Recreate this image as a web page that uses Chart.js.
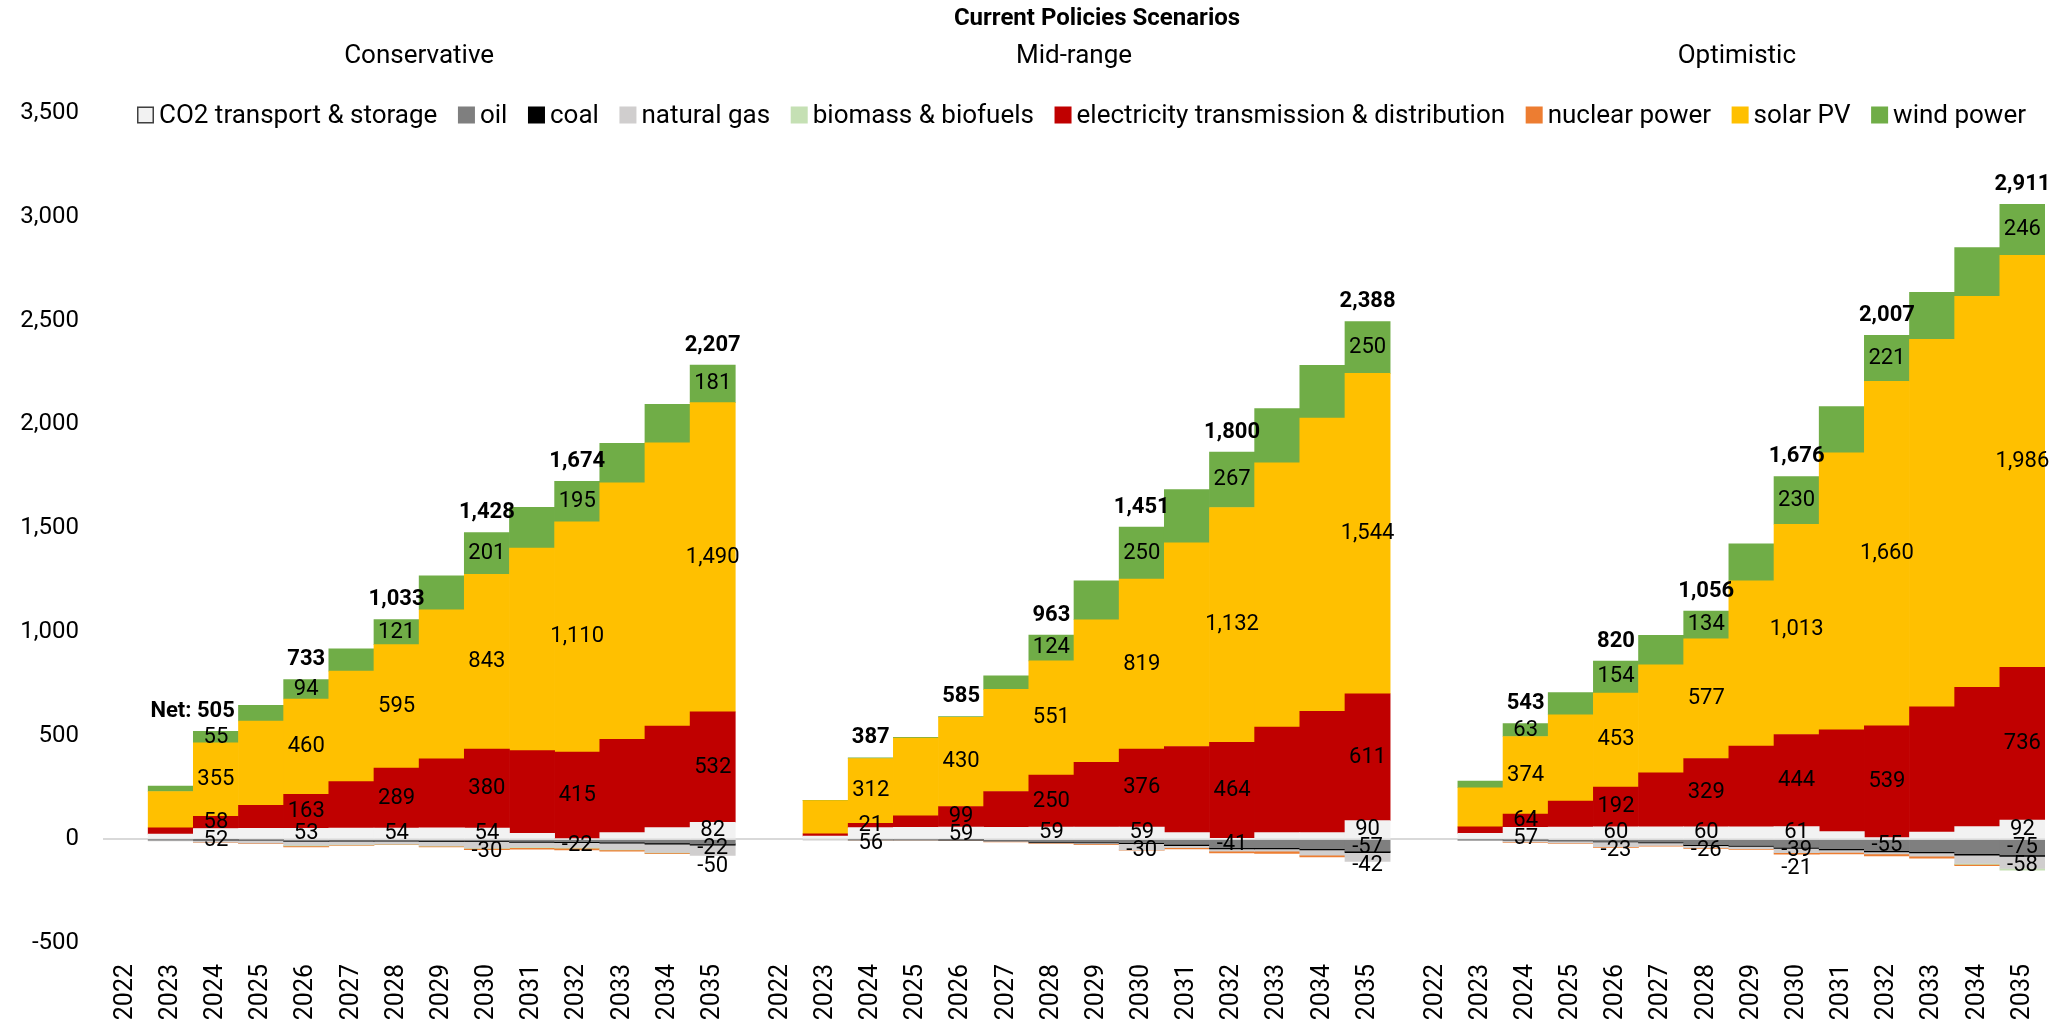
<!DOCTYPE html>
<html>
<head>
<meta charset="utf-8">
<script src="https://cdn.jsdelivr.net/npm/chart.js@4.4.1/dist/chart.umd.min.js"></script>
<style>
  html, body { margin: 0; padding: 0; background: #ffffff; }
  #wrap { width: 2053px; height: 1024px; }
</style>
</head>
<body>
<div id="wrap"><canvas id="myChart" width="2053" height="1024"></canvas></div>
<script>
const years = ['2022', '2023', '2024', '2025', '2026', '2027', '2028', '2029', '2030', '2031', '2032', '2033', '2034', '2035'];
const scenarios = ['Conservative', 'Mid-range', 'Optimistic'];
const mainTitle = 'Current Policies Scenarios';
const series = ['CO2 transport & storage', 'oil', 'coal', 'natural gas', 'biomass & biofuels',
  'electricity transmission & distribution', 'nuclear power', 'solar PV', 'wind power'];
const colors = ['#F2F2F2', '#7F7F7F', '#000000', '#D0CECE', '#C5E0B4', '#C00000', '#ED7D31', '#FFC000', '#70AD47'];

// y axis
const yMin = -500, yMax = 3500, yStep = 500;

// years that carry value labels, and the bold net labels on them
const labelYears = ['2024', '2026', '2028', '2030', '2032', '2035'];

// Conservative
const consCO2   = [0, 25, 52, 53, 53, 54, 54, 55, 54, 29, 5, 32, 56, 82];
const consOil   = [0, -2, -3, -4, -8, -6, -6, -8, -8, -10, -12, -14, -18, -22];
const consCoal  = [0, 0, -1, -1, -3, -3, -3, -4, -4, -5, -5, -5, -6, -6];
const consGas   = [0, -6, -10, -14, -18, -16, -14, -19, -30, -22, -22, -30, -40, -50];
const consBio   = [0, 0, 0, 0, -3, -2, -1, -2, -2, -3, -4, -3, -2, 0];
const consElec  = [0, 30, 58, 110, 163, 224, 289, 332, 380, 398, 415, 450, 490, 532];
const consNuc   = [0, 0, -1, -2, -5, -3, -2, -4, -6, -8, -8, -6, -3, 0];
const consSolar = [0, 175, 355, 407, 460, 532, 595, 719, 843, 976, 1110, 1236, 1365, 1490];
const consWind  = [0, 26, 55, 76, 94, 108, 121, 163, 201, 197, 195, 190, 185, 181];
const consNet   = ['Net: 505', '733', '1,033', '1,428', '1,674', '2,207'];

// Mid-range
const midCO2   = [0, 15, 56, 57, 59, 57, 59, 59, 59, 32, 3, 32, 32, 90];
const midOil   = [0, 0, -2, -2, -3, -6, -12, -14, -16, -25, -41, -40, -45, -57];
const midCoal  = [0, 0, 0, 0, -1, -2, -3, -4, -5, -6, -6, -6, -7, -8];
const midGas   = [0, -2, -2, -2, -1, -3, -4, -5, -30, -10, -10, -12, -25, -42];
const midBio   = [0, 0, 0, 0, 0, 0, 0, 0, 0, 0, 0, 0, 0, 0];
const midElec  = [0, 11, 21, 56, 99, 173, 250, 312, 376, 415, 464, 509, 585, 611];
const midNuc   = [0, 0, -1, -1, -1, -2, -2, -3, -2, -6, -9, -10, -8, 0];
const midSolar = [0, 160, 312, 375, 430, 492, 551, 687, 819, 982, 1132, 1273, 1413, 1544];
const midWind  = [0, 2, 3, 3, 3, 65, 124, 188, 250, 256, 267, 262, 254, 250];
const midNet   = ['387', '585', '963', '1,451', '1,800', '2,388'];

// Optimistic
const optCO2   = [0, 28, 57, 59, 60, 60, 60, 60, 61, 37, 8, 34, 61, 92];
const optOil   = [0, -2, -4, -6, -10, -14, -26, -30, -39, -45, -55, -60, -70, -75];
const optCoal  = [0, 0, -1, -2, -3, -4, -5, -5, -5, -6, -6, -6, -7, -8];
const optGas   = [0, -4, -8, -10, -23, -12, -10, -10, -21, -12, -10, -15, -40, -58];
const optBio   = [0, 0, 0, 0, 0, 0, 0, 0, 0, 0, 0, 0, -4, -8];
const optElec  = [0, 32, 64, 125, 192, 260, 329, 389, 444, 490, 539, 604, 671, 736];
const optNuc   = [0, 0, -2, -2, -3, -3, -3, -4, -7, -8, -9, -10, -6, 0];
const optSolar = [0, 188, 374, 416, 453, 521, 577, 796, 1013, 1335, 1660, 1771, 1884, 1986];
const optWind  = [0, 32, 63, 107, 154, 142, 134, 179, 230, 223, 221, 227, 235, 246];
const optNet   = ['543', '820', '1,056', '1,676', '2,007', '2,911'];

const scenarioSeries = [
  [consCO2, consOil, consCoal, consGas, consBio, consElec, consNuc, consSolar, consWind],
  [midCO2, midOil, midCoal, midGas, midBio, midElec, midNuc, midSolar, midWind],
  [optCO2, optOil, optCoal, optGas, optBio, optElec, optNuc, optSolar, optWind]
];
const scenarioNet = [consNet, midNet, optNet];

// the three panels sit side by side on one x axis, half a bar apart
const groupStart = [0, 14.5, 29];
const xPositions = [];
const xLabels = [];
groupStart.forEach(g => years.forEach((y, i) => { xPositions.push(g + i); xLabels.push(y); }));

const FONT = 'Roboto, "DejaVu Sans", sans-serif';
Chart.defaults.font.family = FONT;
Chart.defaults.color = '#000';

const datasets = series.map((name, s) => ({
  label: name,
  backgroundColor: colors[s],
  borderWidth: 0,
  barPercentage: 1,
  categoryPercentage: 1,
  data: scenarioSeries.flatMap((arr, g) => arr[s].map((v, i) => ({ x: groupStart[g] + i, y: v === 0 ? null : v })))
}));

const headerPlugin = {
  id: 'header',
  afterDraw(chart) {
    const ctx = chart.ctx;
    const xs = chart.scales.x;
    ctx.save();
    ctx.fillStyle = '#000';
    ctx.textAlign = 'center';
    ctx.textBaseline = 'middle';
    ctx.font = 'bold 24px ' + FONT;
    ctx.fillText(mainTitle, 1097, 19);
    ctx.font = '26px ' + FONT;
    scenarios.forEach((name, g) => {
      const a = xs.getPixelForValue(groupStart[g] - 0.5);
      const b = xs.getPixelForValue(groupStart[g] + years.length - 0.5);
      ctx.fillText(name, (a + b) / 2 + (g === 2 ? 8 : 0), 56);
    });

    // legend laid over the top of the plot area
    ctx.font = '26px ' + FONT;
    ctx.textAlign = 'left';
    const box = 17, gapBT = 5, x0 = 137, x1 = 2026, ly = 115;
    const widths = series.map(t => ctx.measureText(t).width);
    const itemW = widths.map(w => box + gapBT + w);
    const total = itemW.reduce((a, b) => a + b, 0);
    const gap = (x1 - x0 - total) / (series.length - 1);
    let x = x0;
    series.forEach((t, s) => {
      ctx.fillStyle = colors[s];
      ctx.fillRect(x, ly - box / 2, box, box);
      if (s === 0) {
        ctx.strokeStyle = '#404040';
        ctx.lineWidth = 1.5;
        ctx.strokeRect(x + 0.75, ly - box / 2 + 0.75, box - 1.5, box - 1.5);
      }
      ctx.fillStyle = '#000';
      ctx.fillText(t, x + box + gapBT, ly + 1);
      x += itemW[s] + gap;
    });
    ctx.restore();
  }
};

const labelPlugin = {
  id: 'segLabels',
  afterDatasetsDraw(chart) {
    const ctx = chart.ctx;
    const LH = 18;
    ctx.save();
    ctx.fillStyle = '#000';
    ctx.textBaseline = 'middle';
    ctx.textAlign = 'center';
    scenarios.forEach((name, g) => {
      labelYears.forEach((yr, k) => {
        const idx = g * years.length + years.indexOf(yr);
        const items = [];
        let top = Infinity, xc = null;
        chart.data.datasets.forEach((ds, s) => {
          const v = ds.data[idx].y;
          if (v == null) return;
          const el = chart.getDatasetMeta(s).data[idx];
          xc = el.x;
          if (v > 0) top = Math.min(top, el.y);
          if (Math.abs(v) >= 20) items.push({ y: (el.y + el.base) / 2, text: v.toLocaleString('en-US') });
        });
        items.sort((a, b) => a.y - b.y);
        ctx.font = '22px ' + FONT;
        let prev = -Infinity;
        items.forEach(it => {
          const y = Math.max(it.y, prev + LH);
          prev = y;
          ctx.fillText(it.text, xc, y);
        });
        const net = scenarioNet[g][k];
        ctx.font = 'bold 22px ' + FONT;
        if (net.startsWith('Net: ')) {
          const numW = ctx.measureText(net.slice(5)).width;
          ctx.textAlign = 'right';
          ctx.fillText(net, xc + numW / 2, top - 20);
          ctx.textAlign = 'center';
        } else {
          ctx.fillText(net, xc, top - 20);
        }
      });
    });
    ctx.restore();
  }
};

const ctx = document.getElementById('myChart').getContext('2d');
const myChart = new Chart(ctx, {
  type: 'bar',
  data: { datasets: datasets },
  options: {
    responsive: false,
    animation: false,
    devicePixelRatio: 1,
    layout: { padding: { top: 113, right: 8, left: 0, bottom: 0 } },
    plugins: {
      legend: { display: false },
      title: { display: false },
      tooltip: { enabled: false }
    },
    scales: {
      x: {
        type: 'linear',
        stacked: true,
        min: -0.5,
        max: 42.5,
        offset: false,
        grid: { display: false, drawTicks: false },
        border: { display: false },
        afterBuildTicks: s => { s.ticks = xPositions.map(v => ({ value: v })); },
        afterFit: s => { s.height = 81; s.paddingLeft = 0; s.paddingRight = 0; },
        ticks: {
          autoSkip: false,
          maxRotation: 90,
          minRotation: 90,
          padding: 21,
          color: '#000',
          font: { size: 25 },
          callback: (v, i) => xLabels[i]
        }
      },
      y: {
        stacked: true,
        min: yMin,
        max: yMax,
        afterFit: s => { s.width = 103; },
        grid: {
          drawTicks: false,
          lineWidth: 2,
          color: c => (c.tick && c.tick.value === 0 ? '#D9D9D9' : 'rgba(0,0,0,0)')
        },
        border: { display: false },
        ticks: {
          stepSize: yStep,
          padding: 24,
          color: '#000',
          font: { size: 24 },
          callback: v => v.toLocaleString('en-US')
        }
      }
    }
  },
  plugins: [labelPlugin, headerPlugin]
});
</script>
</body>
</html>
